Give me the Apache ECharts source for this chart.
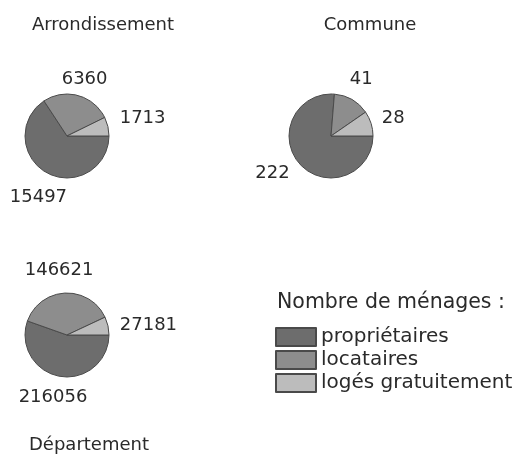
<!DOCTYPE html>
<html>
<head>
<meta charset="utf-8">
<script src="https://cdn.jsdelivr.net/npm/echarts@6/dist/echarts.min.js"></script>
<style>
html,body{margin:0;padding:0;background:#fff;}
#chart{width:514px;height:462px;}
</style>
</head>
<body>
<div id="chart"></div>
<script>
// ---- data ----
const categories = ['propriétaires', 'locataires', 'logés gratuitement'];
const arrondissement = [15497, 6360, 1713];
const commune = [222, 41, 28];
const departement = [216056, 146621, 27181];
const panelTitles = ['Arrondissement', 'Commune', 'Département'];
const legendTitle = 'Nombre de ménages :';

// ---- layout / style ----
const FONT = 'DejaVu Sans';
const TEXT = '#2a2a2a';
const colors = ['#6d6d6d', '#8d8d8d', '#bcbcbc'];
const R = 42;
const centers = [[67, 136], [331, 136], [67, 335]];
const LABEL_GAP = 8;
// small manual nudges of the value labels (pixels), per pie / per slice
const labelNudges = [
  [[0, 8], [2, 1], [4, -1]],
  [[-12, -6], [0, -4], [3, 1]],
  [[-4, 4], [-5, -6], [4, 8]]
];

function makeLabelLayout(values, center, nudges) {
  const total = values.reduce((a, b) => a + b, 0);
  return function (p) {
    let cum = 0;
    for (let i = 0; i < p.dataIndex; i++) cum += values[i];
    const ang = (cum + values[p.dataIndex] / 2) / total * Math.PI * 2; // clockwise from east
    const ux = Math.cos(ang), uy = Math.sin(ang);
    const w = p.labelRect.width, h = p.labelRect.height;
    const tx = Math.abs(ux) > 1e-6 ? (w / 2) / Math.abs(ux) : Infinity;
    const ty = Math.abs(uy) > 1e-6 ? (h / 2) / Math.abs(uy) : Infinity;
    const d = R + LABEL_GAP + Math.min(tx, ty);
    const n = nudges[p.dataIndex];
    return { x: center[0] + ux * d + n[0], y: center[1] + uy * d + n[1], align: 'center', verticalAlign: 'middle' };
  };
}

function pieSeries(values, center, nudges) {
  return {
    type: 'pie',
    center: center,
    radius: R,
    startAngle: 0,
    clockwise: true,
    avoidLabelOverlap: false,
    animation: false,
    data: categories.map((n, i) => ({ name: n, value: values[i] })),
    itemStyle: { borderColor: '#4a4a4a', borderWidth: 1 },
    label: { show: true, position: 'outside', formatter: '{c}', fontFamily: FONT, fontSize: 18, color: TEXT },
    labelLine: { show: false },
    labelLayout: makeLabelLayout(values, center, nudges),
    emphasis: { disabled: true }
  };
}

const chart = echarts.init(document.getElementById('chart'), null, { renderer: 'canvas' });
chart.setOption({
  animation: false,
  color: colors,
  graphic: [
    { type: 'text', x: 103, y: 25, style: { text: panelTitles[0], font: '18px "' + FONT + '"', fill: TEXT, align: 'center', verticalAlign: 'middle' } },
    { type: 'text', x: 370, y: 25, style: { text: panelTitles[1], font: '18px "' + FONT + '"', fill: TEXT, align: 'center', verticalAlign: 'middle' } },
    { type: 'text', x: 89, y: 445, style: { text: panelTitles[2], font: '18px "' + FONT + '"', fill: TEXT, align: 'center', verticalAlign: 'middle' } },
    { type: 'text', x: 277, y: 303, style: { text: legendTitle, font: '20.5px "' + FONT + '"', fill: TEXT, align: 'left', verticalAlign: 'middle' } }
  ],
  legend: {
    data: categories,
    orient: 'vertical',
    left: 275,
    top: 327,
    padding: 0,
    itemWidth: 40,
    itemHeight: 18,
    itemGap: 3,
    icon: 'rect',
    selectedMode: false,
    textStyle: { fontFamily: FONT, fontSize: 20, color: TEXT, lineHeight: 18 }
  },
  series: [
    pieSeries(arrondissement, centers[0], labelNudges[0]),
    pieSeries(commune, centers[1], labelNudges[1]),
    pieSeries(departement, centers[2], labelNudges[2])
  ]
});
</script>
</body>
</html>
